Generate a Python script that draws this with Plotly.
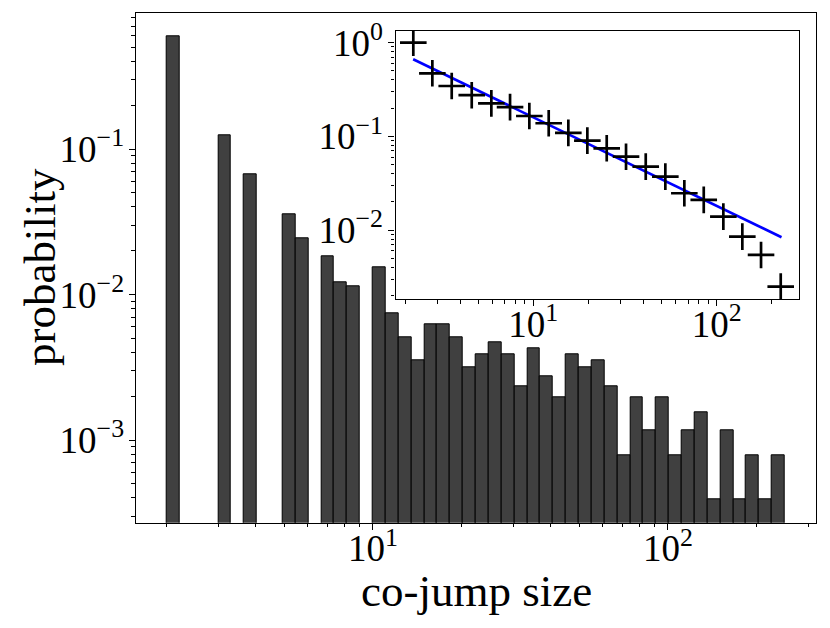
import numpy as np
import plotly.graph_objects as go

# ---------------- data ----------------
# main histogram: log-spaced bins from 2 to ~249 (48 bins), probability per bin
BIN_MIN = 2
BIN_MAX = 249
N_BINS = 48
bin_prob = [0.598, None, None, None, 0.125, None, 0.067, None, None, 0.0356,
            0.0242, None, 0.0184, 0.0121, 0.0114, None, 0.0153, 0.00743,
            0.00508, 0.00351, 0.00624, 0.00624, 0.00508, 0.00314, 0.00390,
            0.00469, 0.00390, 0.00235, 0.00429, 0.00274, 0.00196, 0.00390,
            0.00314, 0.00351, 0.00235, 0.00078, 0.00196, 0.00117, 0.00196,
            0.00078, 0.00117, 0.00156, 0.000394, 0.00117, 0.000394, 0.00078,
            0.000394, 0.00078]

# inset: complementary cumulative distribution
ccdf_x = [2.214, 2.812, 3.587, 4.612, 5.901, 7.464, 9.51, 12.13, 15.52, 19.71,
          25.14, 32.04, 41.04, 52.5, 66.65, 85.06, 108.8, 138.1, 174.7, 223.7]
ccdf_y = [1.0, 0.471, 0.345, 0.275, 0.225, 0.205, 0.165, 0.138, 0.109, 0.090,
          0.0746, 0.0607, 0.0475, 0.0372, 0.0247, 0.0210, 0.0139, 0.00851,
          0.00542, 0.00249]

# inset: power-law fit line (endpoints)
fit_x = [2.21, 226.0]
fit_y = [0.665, 0.00838]

main_xticks = [10, 100]
main_xticktext = ["10<sup>1</sup>", "10<sup>2</sup>"]
main_yticks = [1e-3, 1e-2, 1e-1]
main_yticktext = ["10<sup>−3</sup>", "10<sup>−2</sup>", "10<sup>−1</sup>"]
inset_yticks = [1e-2, 1e-1, 1]
inset_yticktext = ["10<sup>−2</sup>", "10<sup>−1</sup>", "10<sup>0</sup>"]

x_title = "co-jump size"
y_title = "probability"

# ---------------- figure ----------------
edges = np.logspace(np.log10(BIN_MIN), np.log10(BIN_MAX), N_BINS + 1)
lefts = edges[:-1]
widths = edges[1:] - edges[:-1]

FONT = "Liberation Serif"
TICKSIZE = 37
TITLESIZE = 45

fig = go.Figure()
fig.add_trace(go.Bar(
    x=lefts, y=bin_prob, width=widths, offset=0,
    marker=dict(color="#404040", line=dict(color="black", width=1)),
    xaxis="x", yaxis="y", showlegend=False,
))
fig.add_trace(go.Scatter(
    x=fit_x, y=fit_y, mode="lines",
    line=dict(color="#0000ff", width=2.6),
    xaxis="x2", yaxis="y2", showlegend=False,
))
fig.add_trace(go.Scatter(
    x=ccdf_x, y=ccdf_y, mode="markers",
    marker=dict(symbol="cross-thin", size=19, color="black",
                line=dict(color="black", width=2.7)),
    xaxis="x2", yaxis="y2", showlegend=False,
))

# the page body has an 8px margin: size and place the figure in window pixels
OFF = 8
W, H = 830 - OFF, 628 - OFF
def px(x0, x1):
    return [(x0 - OFF) / W, (x1 - OFF) / W]
def py(y_top, y_bot):
    return [(H - (y_bot - OFF)) / H, (H - (y_top - OFF)) / H]
def pxx(x):
    return (x - OFF) / W
def pyy(y):
    return (H - (y - OFF)) / H

minor_x = [v * 10 ** e for e in range(0, 3) for v in range(2, 10)]
minor_y = [v * 10 ** e for e in range(-4, 1) for v in range(2, 10)]

common = dict(
    type="log", showgrid=False, zeroline=False, showline=True,
    linecolor="black", linewidth=1.3, mirror=True, automargin=False,
    ticks="outside", ticklen=6, tickwidth=1.2, tickcolor="black",
    tickfont=dict(family=FONT, size=TICKSIZE, color="black"),
)
minor_common = dict(ticks="outside", ticklen=3.5, tickwidth=1, tickcolor="black")

fig.update_layout(
    width=W, height=H,
    margin=dict(l=0, r=0, t=0, b=0),
    paper_bgcolor="white", plot_bgcolor="white",
    bargap=0,
    xaxis=dict(
        **common, domain=px(135.7, 816),
        range=[0.1956, 2.502],
        tickmode="array", tickvals=main_xticks, ticktext=main_xticktext,
        minor=dict(tickvals=minor_x, **minor_common),
        ticklabelstandoff=-13,
        anchor="y",
    ),
    yaxis=dict(
        **common, domain=py(13.3, 522.7),
        range=[-3.568, -0.067],
        tickmode="array", tickvals=main_yticks, ticktext=main_yticktext,
        minor=dict(tickvals=minor_y, **minor_common),
        ticklabelstandoff=-3,
        anchor="x",
    ),
    xaxis2=dict(
        **common, domain=px(395.5, 799.3),
        range=[0.248, 2.451],
        tickmode="array", tickvals=main_xticks, ticktext=main_xticktext,
        minor=dict(tickvals=minor_x, **minor_common),
        ticklabelstandoff=-14,
        anchor="y2",
    ),
    yaxis2=dict(
        **common, domain=py(30.5, 299),
        range=[-2.736, 0.130],
        tickmode="array", tickvals=inset_yticks, ticktext=inset_yticktext,
        minor=dict(tickvals=minor_y, **minor_common),
        ticklabelstandoff=-2,
        anchor="x2",
    ),
    annotations=[
        dict(text=x_title, xref="paper", yref="paper",
             x=pxx(476), y=pyy(591), xanchor="center", yanchor="middle",
             showarrow=False,
             font=dict(family=FONT, size=TITLESIZE, color="black")),
        dict(text=y_title, xref="paper", yref="paper",
             x=pxx(40), y=pyy(267), xanchor="center", yanchor="middle",
             textangle=-90, showarrow=False,
             font=dict(family=FONT, size=TITLESIZE, color="black")),
    ],
)

fig.write_html("out.html")
